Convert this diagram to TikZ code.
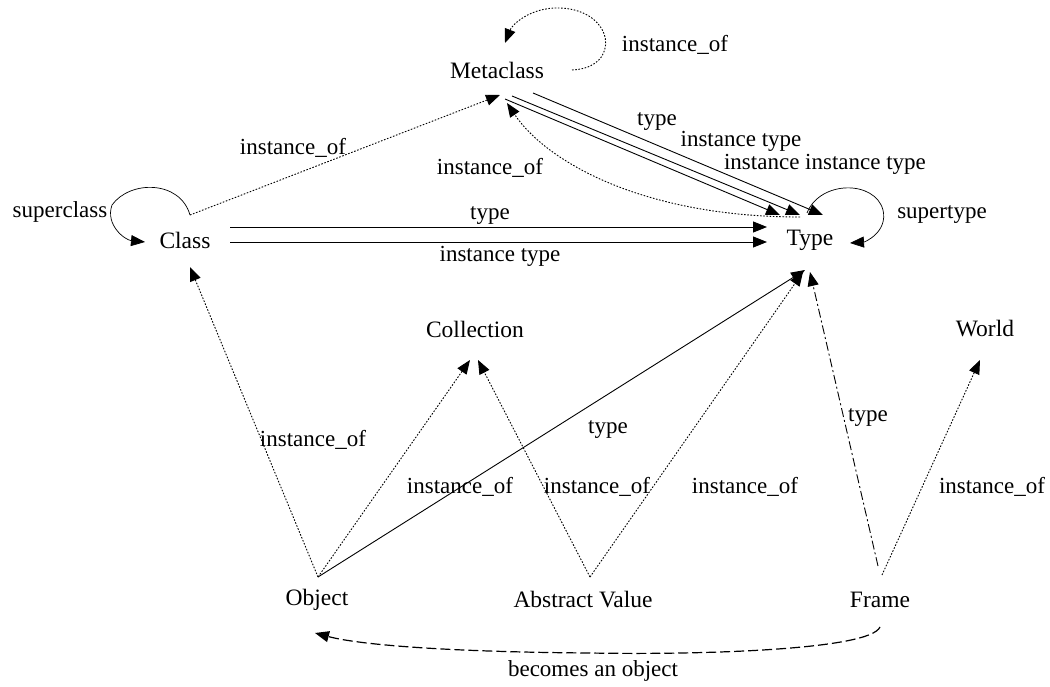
\documentclass[tikz,border=0pt]{standalone}
\usepackage{fontspec}
\setmainfont{Liberation Serif}
\usetikzlibrary{arrows.meta,calc}
\begin{document}
\begin{tikzpicture}[x=1pt,y=-1pt,
  nd/.style={font=\fontsize{23.5}{25}\selectfont, inner sep=0pt},
  lbl/.style={font=\fontsize{23}{25}\selectfont, inner sep=0pt},
  con/.style={line width=0.9pt, -{Triangle[length=14pt,width=11pt]}},
  solidl/.style={con},
  dotl/.style={con, dash pattern=on 1.6pt off 1.6pt},
  dashdotl/.style={con, dash pattern=on 9pt off 3pt on 2pt off 3pt},
  dashl/.style={con, line width=1.2pt, dash pattern=on 10pt off 4pt},
  loopl/.style={con, line width=0.7pt}]
\useasboundingbox (0,0) rectangle (1050,687);

% nodes
\node[nd] (meta)  at (497,70)  {Metaclass};
\node[nd] (class) at (185,240) {Class};
\node[nd] (type)  at (810,240) {Type};
\node[nd] (coll)  at (475,329) {Collection};
\node[nd] (world) at (985,329) {World};
\node[nd] (obj)   at (317,600) {Object};
\node[nd] (av)    at (583,600) {Abstract Value};
\node[nd] (frame) at (880,600) {Frame};

% connector end points
\coordinate (mLoopA) at ($(meta)+(75,0)$);
\coordinate (mLoopB) at ($(meta)+(8,-27)$);
\coordinate (mIn1) at ($(meta)+(3,25)$);
\coordinate (mIn2) at ($(meta)+(10,33)$);
\coordinate (mOut1) at ($(meta)+(36,23)$);
\coordinate (mOut2) at ($(meta)+(15,26)$);
\coordinate (mOut3) at ($(meta)+(8,29)$);
\coordinate (tIn1) at ($(type)+(13,-25)$);
\coordinate (tIn2) at ($(type)+(-10,-25)$);
\coordinate (tIn3) at ($(type)+(-30,-25)$);
\coordinate (tDot) at ($(type)+(-10,-23)$);
\coordinate (tLoopA) at ($(type)+(-3,-27)$);
\coordinate (tLoopB) at ($(type)+(40,3)$);
\coordinate (tLeft1) at ($(type)+(-43,-13)$);
\coordinate (tLeft2) at ($(type)+(-43,2)$);
\coordinate (tBot1) at ($(type)+(-5,30)$);
\coordinate (tBot2) at ($(type)+(-7,32)$);
\coordinate (tBot3) at ($(type)+(0,32)$);
\coordinate (cTop) at ($(class)+(5,-25)$);
\coordinate (cLoopB) at ($(class)+(-40,2)$);
\coordinate (cR1) at ($(class)+(45,-13)$);
\coordinate (cR2) at ($(class)+(45,2)$);
\coordinate (cBot) at ($(class)+(5,27)$);
\coordinate (colBotL) at ($(coll)+(-5,31)$);
\coordinate (colBotR) at ($(coll)+(3,31)$);
\coordinate (wBot) at ($(world)+(-5,31)$);
\coordinate (oTop) at ($(obj)+(1,-23)$);
\coordinate (oBot) at ($(obj)+(-2,33)$);
\coordinate (aTop) at ($(av)+(7,-23)$);
\coordinate (fTop1) at ($(frame)+(-2,-34)$);
\coordinate (fTop2) at ($(frame)+(2,-25)$);
\coordinate (fBot) at ($(frame)+(0,27)$);

% Metaclass self loop
\draw[dotl] (mLoopA) .. controls (622,68) and (615,10) .. (560,8)
  .. controls (530,7) and (512,25) .. (mLoopB);
\node[lbl] (lMeta) at (675,45) {instance\_of};

% Class -> Metaclass
\draw[dotl] (cTop) -- (mIn1);
\node[lbl] (lCM) at (293,148) {instance\_of};

% Metaclass -> Type (three lines)
\draw[solidl] (mOut1) -- (tIn1);
\draw[solidl] (mOut2) -- (tIn2);
\draw[solidl] (mOut3) -- (tIn3);
\node[lbl] (lT1) at (657,122) {type};
\node[lbl] (lT2) at (741,141) {instance type};
\node[lbl] (lT3) at (825,164) {instance instance type};

% Type -> Metaclass
\draw[dotl] (tDot) .. controls (640,217) and (545,160) .. (mIn2);
\node[lbl] (lTM) at (490,168) {instance\_of};

% Class self loop
\draw[loopl] (cTop) .. controls (180,180) and (130,180) .. (112,205)
  .. controls (105,225) and (125,240) .. (cLoopB);
\node[lbl] (lSC) at (60,212) {superclass};

% Type self loop
\draw[loopl] (tLoopA) .. controls (820,180) and (875,180) .. (883,210)
  .. controls (888,232) and (865,242) .. (tLoopB);
\node[lbl] (lST) at (942,215) {supertype};

% Class -> Type
\draw[solidl] (cR1) -- (tLeft1);
\draw[solidl] (cR2) -- (tLeft2);
\node[lbl] (lCT1) at (490,216) {type};
\node[lbl] (lCT2) at (500,256) {instance type};

% Object edges
\draw[dotl] (oTop) -- (cBot);
\draw[dotl] (oTop) -- (colBotL);
\draw[solidl] (oTop) -- (tBot1);
\node[lbl] (lOC) at (313,440) {instance\_of};
\node[lbl] (lOCol) at (460,487) {instance\_of};
\node[lbl] (lOT) at (608,430) {type};

% Abstract Value edges
\draw[dotl] (aTop) -- (colBotR);
\draw[dotl] (aTop) -- (tBot2);
\node[lbl] (lACol) at (597,487) {instance\_of};
\node[lbl] (lAT) at (745,487) {instance\_of};

% Frame edges
\draw[dashdotl] (fTop1) -- (tBot3);
\draw[dotl] (fTop2) -- (wBot);
\node[lbl] (lFT) at (868,418) {type};
\node[lbl] (lFW) at (992,487) {instance\_of};

\draw[dashl] (fBot) .. controls (870,650) and (700,655) .. (590,653)
  .. controls (450,652) and (360,645) .. (oBot);
\node[lbl] (lFO) at (593,671) {becomes an object};
\end{tikzpicture}
\end{document}
